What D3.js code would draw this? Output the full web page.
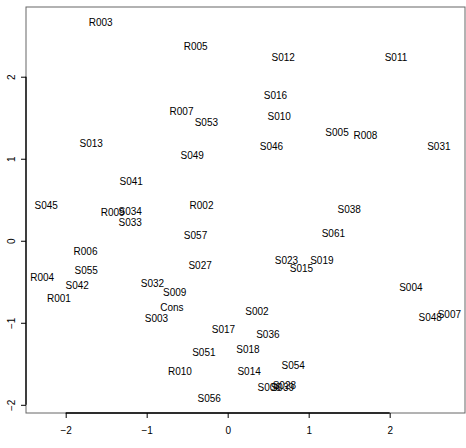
<!DOCTYPE html>
<html>
<head>
<meta charset="utf-8">
<script src="https://cdn.jsdelivr.net/npm/d3@7"></script>
<style>
  body { margin: 0; background: #fff; }
  text { font-family: "Liberation Sans", Arial, sans-serif; }
</style>
</head>
<body>
<script>
// labels and their coordinates
const labels = ["R003", "R005", "S012", "S011", "S016", "S010", "S005", "R008", "S046", "S031",
    "S038", "R007", "S053", "S013", "S049", "S041", "S045", "R002", "R009", "S034",
    "S033", "S057", "R006", "S027", "S055", "R004", "S032", "S042", "S009", "R001",
    "Cons", "S003", "S017", "S051", "R010", "S056", "S061", "S023", "S019", "S015",
    "S004", "S002", "S048", "S007", "S036", "S018", "S054", "S014", "S006", "S039", "S028"];
const xs = [-1.568, -0.395, 0.685, 2.078, 0.590, 0.636, 1.350, 1.700, 0.541, 2.607,
    1.500, -0.570, -0.263, -1.685, -0.438, -1.191, -2.241, -0.323, -1.420, -1.204,
    -1.204, -0.397, -1.755, -0.340, -1.747, -2.290, -0.928, -1.858, -0.654, -2.084,
    -0.688, -0.880, -0.052, -0.294, -0.590, -0.228, 1.305, 0.726, 1.163, 0.911,
    2.262, 0.362, 2.500, 2.737, 0.496, 0.251, 0.809, 0.265, 0.512, 0.675, 0.700];
const ys = [2.662, 2.370, 2.240, 2.240, 1.772, 1.516, 1.325, 1.280, 1.146, 1.146,
    0.378, 1.577, 1.443, 1.183, 1.045, 0.723, 0.427, 0.427, 0.345, 0.362,
    0.223, 0.061, -0.134, -0.297, -0.362, -0.447, -0.524, -0.545, -0.630, -0.707,
    -0.813, -0.943, -1.085, -1.357, -1.594, -1.918, 0.094, -0.240, -0.240, -0.333,
    -0.565, -0.858, -0.931, -0.899, -1.146, -1.329, -1.524, -1.598, -1.795, -1.795, -1.765];
const xTicks = [-2, -1, 0, 1, 2];
const yTicks = [-2, -1, 0, 1, 2];

const W = 466, H = 448;
const margin = {left: 26, right: 465, top: 7, bottom: 413};

const x = d3.scaleLinear().domain([-2.49, 2.93]).range([margin.left, margin.right]);
const y = d3.scaleLinear().domain([-2.10, 2.85]).range([margin.bottom, margin.top]);
const fmt = d3.format("d");

const svg = d3.select("body").append("svg")
    .attr("width", W)
    .attr("height", H);

// plot box
svg.append("rect")
    .attr("x", margin.left)
    .attr("y", margin.top)
    .attr("width", margin.right - margin.left)
    .attr("height", margin.bottom - margin.top)
    .attr("fill", "none")
    .attr("stroke", "#666")
    .attr("stroke-width", 1);

// x axis
let gx = svg.append("g")
    .attr("transform", "translate(0," + margin.bottom + ")")
    .call(d3.axisBottom(x).tickValues(xTicks).tickFormat(fmt).tickSize(5).tickPadding(9));
gx.select(".domain").remove();
gx.selectAll("line").attr("stroke", "#000");
gx.selectAll("text").style("font-size", "10px").attr("fill", "#000");
gx.append("line")
    .attr("x1", x(xTicks[0])).attr("x2", x(xTicks[xTicks.length - 1]))
    .attr("stroke", "#000").attr("stroke-width", 1.3);

// y axis
let gy = svg.append("g")
    .attr("transform", "translate(" + margin.left + ",0)")
    .call(d3.axisLeft(y).tickValues(yTicks).tickFormat(fmt).tickSize(5));
gy.select(".domain").remove();
gy.selectAll("line").attr("stroke", "#000");
gy.selectAll("text")
    .style("font-size", "10px")
    .attr("fill", "#000")
    .attr("x", null)
    .attr("dy", null)
    .attr("text-anchor", "middle")
    .attr("dominant-baseline", "central")
    .attr("transform", "translate(-15,0) rotate(-90)");
gy.append("line")
    .attr("y1", y(yTicks[0])).attr("y2", y(yTicks[yTicks.length - 1]))
    .attr("stroke", "#000").attr("stroke-width", 1.3);

// point labels
svg.append("g")
    .selectAll("text")
    .data(labels)
    .enter().append("text")
    .attr("x", function (d, i) { return x(xs[i]); })
    .attr("y", function (d, i) { return y(ys[i]); })
    .attr("text-anchor", "middle")
    .attr("dominant-baseline", "central")
    .style("font-size", "10px")
    .attr("fill", "#000")
    .text(function (d) { return d; });
</script>
</body>
</html>
